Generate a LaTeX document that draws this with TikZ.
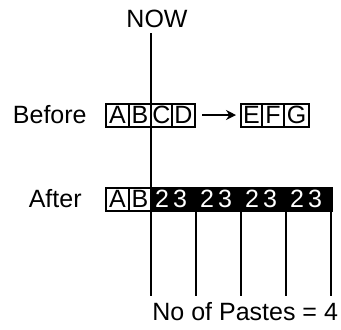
\documentclass[tikz,border=0pt]{standalone}
\usepackage{fontspec}
\setmainfont{Liberation Sans}
\usetikzlibrary{arrows.meta,positioning}
\newcommand\lbl{\fontsize{12.5}{15}\selectfont}
\tikzset{
  cell/.style={
    rectangle,
    draw=black,
    line width=1pt,
    minimum height=11.5pt,
    inner sep=0pt,
    outer sep=0pt,
    font=\lbl,
  },
  pastecell/.style={
    rectangle,
    draw=black,
    fill=black,
    line width=1pt,
    minimum height=11.5pt,
    minimum width=90.5pt,
    inner sep=0pt,
    outer sep=0pt,
  },
  digit/.style={text=white, font=\lbl, inner sep=0pt},
  rowlabel/.style={font=\lbl, inner sep=0pt},
  marker/.style={line width=1.2pt},
  shift arrow/.style={-{Stealth[length=5pt,width=5pt]}, line width=1pt},
}
\begin{document}
\begin{tikzpicture}[x=0.5pt,y=-0.5pt]
  \useasboundingbox (0,0) rectangle (341,329);

  \node[rowlabel] (nowlbl) at (157,19) {NOW};

  % before the paste
  \node[cell,minimum width=11.5pt] (bA) at (117.5,115) {A};
  \node[cell,minimum width=11pt,right=0pt of bA] (bB) {B};
  \node[cell,minimum width=10.5pt,right=0pt of bB] (bC) {C};
  \node[cell,minimum width=11.5pt,right=0pt of bC] (bD) {D};
  \node[cell,minimum width=10.5pt,right=23pt of bD] (bE) {E};
  \node[cell,minimum width=11pt,right=0pt of bE] (bF) {F};
  \node[cell,minimum width=12.5pt,right=0pt of bF] (bG) {G};
  \node[rowlabel,left=9.5pt of bA] (beforelbl) {Before};

  \draw[shift arrow] ([xshift=3.5pt]bD.east) -- ([xshift=-2.5pt]bE.west);

  % after the paste
  \node[cell,minimum width=11.5pt] (aA) at (117.5,199) {A};
  \node[cell,minimum width=11pt,right=0pt of aA] (aB) {B};
  \node[pastecell,right=0pt of aB] (paste) {};
  \node[rowlabel,left=12pt of aA] (afterlbl) {After};

  \foreach \i in {0,...,3} {
    \node[digit] (two\i) at ([xshift=\i*22.5pt+5.5pt]paste.west) {2};
    \node[digit] (three\i) at ([xshift=\i*22.5pt+14.5pt]paste.west) {3};
  }

  % the NOW marker and one tick per paste
  \coordinate (nowtop) at (151,33);
  \coordinate (nowbot) at (151,296);
  \draw[marker] (nowtop) -- (nowbot);
  \foreach \i in {1,...,4}
    \draw[marker] ([xshift=\i*22.5pt]paste.south west) -- ([xshift=\i*22.5pt]paste.south west |- nowbot);

  \node[rowlabel,anchor=west] (pastes) at (152,312) {No of Pastes = 4};
\end{tikzpicture}
\end{document}
